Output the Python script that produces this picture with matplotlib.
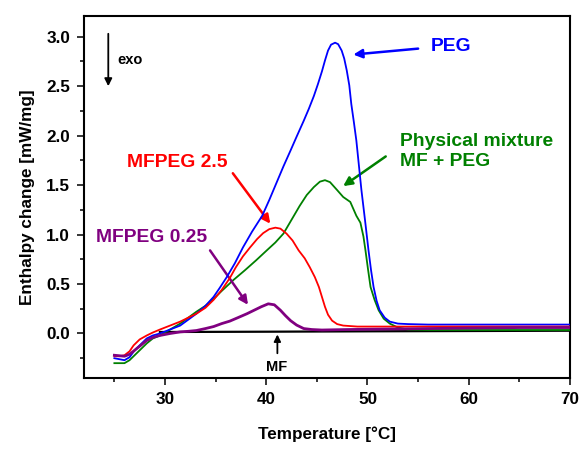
import matplotlib
matplotlib.use("Agg")
import matplotlib.pyplot as plt
from matplotlib.ticker import MultipleLocator, FormatStrFormatter

plt.rcParams['font.family'] = ['Liberation Sans', 'DejaVu Sans']
plt.rcParams['font.weight'] = 'bold'

# ---- data ----
peg_T = [25.0, 25.5, 26.0, 26.5, 27.0, 27.6, 28.2, 28.8, 29.5, 30.5, 31.5, 32.3, 33.1, 34.0, 34.8,
         35.4, 36.1, 36.9, 37.7, 38.6, 39.6, 40.3, 41.0, 41.7, 42.4, 43.0, 43.7, 44.2, 44.7, 45.1,
         45.5, 45.8, 46.1, 46.4, 46.8, 47.1, 47.45, 47.7, 47.95, 48.2, 48.4, 48.65, 48.9, 49.15,
         49.4, 49.75, 50.1, 50.35, 50.6, 50.9, 51.2, 51.7, 52.2, 53.0, 54.0, 56.0, 60.0, 65.0, 70.0]
peg_y = [-0.25, -0.26, -0.27, -0.24, -0.17, -0.11, -0.05, -0.02, 0.0, 0.04, 0.08, 0.14, 0.20, 0.28, 0.37,
         0.46, 0.57, 0.71, 0.87, 1.03, 1.19, 1.35, 1.52, 1.69, 1.85, 1.99, 2.15, 2.27, 2.40, 2.52,
         2.65, 2.76, 2.86, 2.92, 2.94, 2.925, 2.86, 2.78, 2.66, 2.51, 2.32, 2.14, 1.95, 1.70,
         1.45, 1.15, 0.84, 0.64, 0.47, 0.33, 0.235, 0.16, 0.12, 0.10, 0.095, 0.09, 0.09, 0.09, 0.09]

mf25_T = [25.0, 25.5, 26.0, 26.5, 26.9, 27.5, 28.2, 28.8, 29.5, 30.5, 31.5, 32.3, 33.1, 34.0, 34.8,
          35.6, 36.4, 37.0, 37.7, 38.4, 39.1, 39.7, 40.3, 40.9, 41.4, 42.0, 42.6, 43.2, 43.8,
          44.3, 44.8, 45.2, 45.5, 45.8, 46.1, 46.5, 47.0, 47.6, 49.0, 52.0, 56.0, 60.0, 65.0, 70.0]
mf25_y = [-0.23, -0.23, -0.22, -0.18, -0.12, -0.06, -0.02, 0.01, 0.04, 0.08, 0.12, 0.16, 0.20, 0.26, 0.34,
          0.44, 0.56, 0.67, 0.78, 0.87, 0.955, 1.015, 1.055, 1.07, 1.06, 1.01, 0.94, 0.84, 0.76,
          0.67, 0.57, 0.47, 0.37, 0.27, 0.19, 0.13, 0.095, 0.08, 0.07, 0.07, 0.07, 0.07, 0.07, 0.07]

mix_T = [25.0, 25.5, 26.0, 26.5, 27.0, 27.6, 28.2, 28.8, 29.5, 30.5, 31.5, 32.3, 33.1, 34.0, 34.8,
         35.6, 36.75, 37.9, 39.0, 40.05, 40.9, 41.7, 42.5, 43.3, 44.0, 44.7, 45.3, 45.8, 46.3, 47.0,
         47.6, 48.3, 48.9, 49.3, 49.6, 49.8, 50.05, 50.3, 50.7, 51.1, 51.6, 52.2, 53.0,
         54.0, 56.0, 60.0, 65.0, 70.0]
mix_y = [-0.30, -0.30, -0.30, -0.27, -0.22, -0.16, -0.10, -0.05, -0.02, 0.04, 0.10, 0.16, 0.22, 0.28, 0.35,
         0.43, 0.54, 0.64, 0.74, 0.84, 0.92, 1.01, 1.15, 1.29, 1.40, 1.48, 1.535, 1.55, 1.53, 1.45,
         1.38, 1.33, 1.19, 1.12, 0.98, 0.84, 0.65, 0.47, 0.34, 0.235, 0.15, 0.10, 0.06,
         0.04, 0.035, 0.035, 0.035, 0.035]

mf025_T = [25.0, 25.5, 26.0, 26.5, 27.0, 27.6, 28.2, 28.8, 29.5, 30.5, 31.5, 32.3, 33.1, 34.0, 34.8,
           35.6, 36.4, 37.2, 38.1, 38.8, 39.5, 40.2, 40.8, 41.4, 41.9, 42.4, 43.0, 43.7, 44.5, 45.5,
           48.0, 52.0, 56.0, 60.0, 65.0, 70.0]
mf025_y = [-0.22, -0.225, -0.23, -0.21, -0.17, -0.12, -0.07, -0.04, -0.02, 0.0, 0.016, 0.022, 0.03, 0.05, 0.07,
           0.10, 0.125, 0.16, 0.20, 0.235, 0.27, 0.30, 0.29, 0.235, 0.18, 0.13, 0.085, 0.05, 0.04, 0.035,
           0.04, 0.045, 0.05, 0.055, 0.06, 0.06]

mf_T = [29.5, 40.0, 50.0, 60.0, 70.0]
mf_y = [0.015, 0.018, 0.022, 0.025, 0.028]

fig = plt.figure(figsize=(5.82, 4.54), dpi=100)
ax = fig.add_axes([0.1443, 0.1674, 0.9794 - 0.1443, 0.9648 - 0.1674])

ax.plot(mf_T, mf_y, color='black', lw=1.6, zorder=2)
ax.plot(mix_T, mix_y, color='#008000', lw=1.3, zorder=3)
ax.plot(peg_T, peg_y, color='#0000FF', lw=1.3, zorder=4)
ax.plot(mf25_T, mf25_y, color='#FF0000', lw=1.3, zorder=5)
ax.plot(mf025_T, mf025_y, color='#800080', lw=2.0, zorder=6)

ax.set_xlim(22, 70)
ax.set_ylim(-0.45, 3.21)
ax.xaxis.set_major_locator(MultipleLocator(10))
ax.xaxis.set_minor_locator(MultipleLocator(5))
ax.yaxis.set_major_locator(MultipleLocator(0.5))
ax.yaxis.set_minor_locator(MultipleLocator(0.25))
ax.yaxis.set_major_formatter(FormatStrFormatter('%.1f'))
ax.set_yticks([0.0, 0.5, 1.0, 1.5, 2.0, 2.5, 3.0])
ax.tick_params(which='major', direction='out', length=5, width=1.1, labelsize=12.3, pad=5)
ax.tick_params(which='minor', direction='out', length=3, width=1.1)
for lab in ax.get_xticklabels() + ax.get_yticklabels():
    lab.set_fontweight('bold')
for s in ax.spines.values():
    s.set_linewidth(1.5)

ax.set_xlabel('Temperature [°C]', fontsize=12.3, fontweight='bold', labelpad=14)
ax.set_ylabel('Enthalpy change [mW/mg]', fontsize=12.3, fontweight='bold', labelpad=8)

ap = dict(arrowstyle='-|>', lw=1.8, mutation_scale=13, shrinkA=0, shrinkB=0)

# exo arrow
ax.annotate('', xy=(24.4, 2.50), xytext=(24.4, 3.03),
            arrowprops=dict(ap, color='black', lw=1.3, mutation_scale=11))
ax.text(25.3, 2.77, 'exo', fontsize=10.5, fontweight='bold', va='center', ha='left')

# PEG
ax.annotate('', xy=(48.6, 2.82), xytext=(55.0, 2.88),
            arrowprops=dict(ap, color='#0000FF'))
ax.text(56.2, 2.90, 'PEG', color='#0000FF', fontsize=13.9, fontweight='bold', va='center', ha='left')

# Physical mixture
ax.annotate('', xy=(47.6, 1.49), xytext=(51.8, 1.79),
            arrowprops=dict(ap, color='#008000'))
ax.text(53.2, 1.84, 'Physical mixture\nMF + PEG', color='#008000', fontsize=13.9,
        fontweight='bold', va='center', ha='left', linespacing=1.2)

# MFPEG 2.5
ax.annotate('', xy=(40.4, 1.11), xytext=(36.7, 1.62),
            arrowprops=dict(ap, color='#FF0000'))
ax.text(26.2, 1.73, 'MFPEG 2.5', color='#FF0000', fontsize=13.9, fontweight='bold',
        va='center', ha='left')

# MFPEG 0.25
ax.annotate('', xy=(38.2, 0.29), xytext=(34.45, 0.84),
            arrowprops=dict(ap, color='#800080'))
ax.text(23.2, 0.97, 'MFPEG 0.25', color='#800080', fontsize=13.9, fontweight='bold',
        va='center', ha='left')

# MF
ax.annotate('', xy=(41.1, -0.01), xytext=(41.1, -0.20),
            arrowprops=dict(ap, color='black', lw=1.3, mutation_scale=10))
ax.text(41.0, -0.34, 'MF', fontsize=10.5, fontweight='bold', va='center', ha='center')

fig.savefig('out.png', dpi=100)
